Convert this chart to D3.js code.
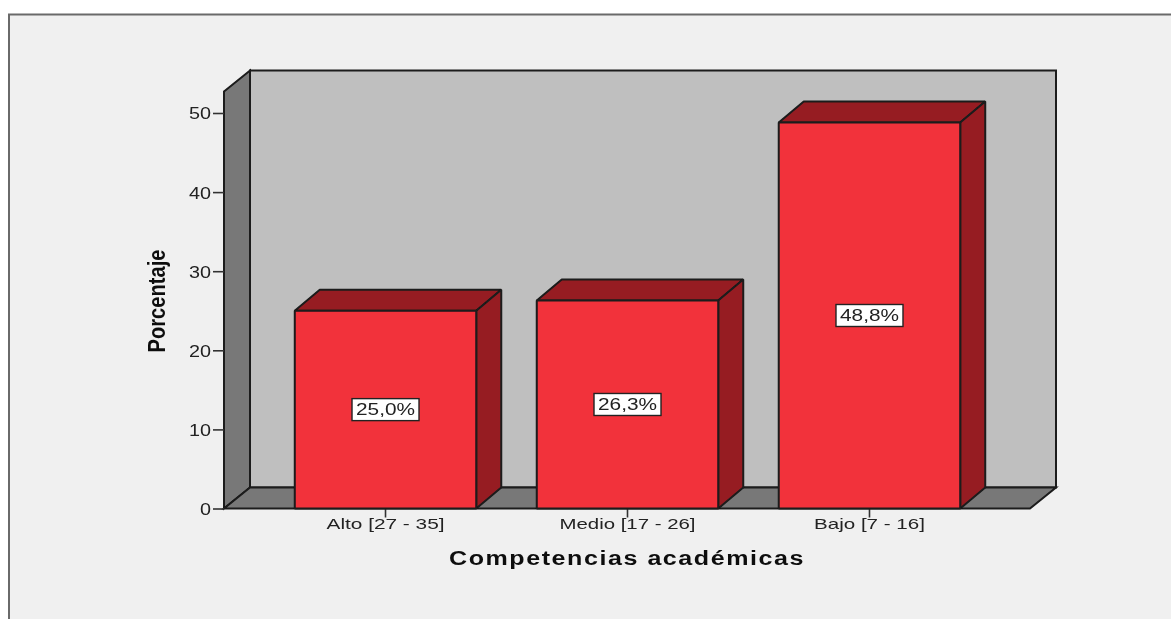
<!DOCTYPE html>
<html>
<head>
<meta charset="utf-8">
<script src="https://cdn.jsdelivr.net/npm/d3@7/dist/d3.min.js"></script>
<style>
html,body{margin:0;padding:0;background:#fff;overflow:hidden}
text{font-family:"Liberation Sans",Arial,sans-serif;fill:#222}
</style>
</head>
<body>
<svg id="c" width="1171" height="619"></svg>
<script>
const categories = ["Alto [27 - 35]", "Medio [17 - 26]", "Bajo [7 - 16]"];
const values = [25.0, 26.3, 48.8];
const valueLabels = ["25,0%", "26,3%", "48,8%"];
const yTicks = [0, 10, 20, 30, 40, 50];
const xTitle = "Competencias académicas";
const yTitle = "Porcentaje";

const W = 1171, H = 619;
const dx = 26, dy = -21;
const left = 224, right = 1030, y0 = 508.5, y50 = 113, topFront = 91.5;

const svg = d3.select("#c");
const defs = svg.append("defs");
defs.append("filter").attr("id", "soft").append("feGaussianBlur").attr("stdDeviation", 0.35);
const root = svg.append("g").attr("filter", "url(#soft)");
const y = d3.scaleLinear().domain([0, 50]).range([y0, y50]);
const x = d3.scaleBand().domain(categories).range([223.5, 1031.5]).paddingInner(0.2500).paddingOuter(0.2945);

const line = "#1a1a1a";
const poly = pts => "M" + pts.map(p => p.join(",")).join("L") + "Z";

// panel
root.append("rect").attr("x", 0).attr("y", 0).attr("width", W).attr("height", H).attr("fill", "#fff");
root.append("rect").attr("x", 9).attr("y", 14.5).attr("width", W + 20).attr("height", H + 20)
  .attr("fill", "#f0f0f0").attr("stroke", "#6a6a6a").attr("stroke-width", 2);

// walls
const g = root.append("g").attr("stroke", line).attr("stroke-width", 2).attr("stroke-linejoin", "miter");
g.append("path").attr("d", poly([[left + dx, topFront + dy], [right + dx, topFront + dy], [right + dx, y0 + dy], [left + dx, y0 + dy]])).attr("fill", "#bfbfbf");
g.append("path").attr("d", poly([[left, topFront], [left + dx, topFront + dy], [left + dx, y0 + dy], [left, y0]])).attr("fill", "#787878");
g.append("path").attr("d", poly([[left, y0], [left + dx, y0 + dy], [right + dx, y0 + dy], [right, y0]])).attr("fill", "#787878");

// axes
const yAxis = d3.axisLeft(y).tickValues(yTicks).tickSize(11).tickPadding(2).tickSizeOuter(0);
const ya = root.append("g").attr("transform", `translate(${left},0)`).call(yAxis);
ya.select(".domain").remove();
ya.selectAll(".tick line").attr("stroke", "#333").attr("stroke-width", 1.6);
ya.selectAll(".tick text").attr("font-size", 16).attr("fill", "#333").attr("dy", "0.37em")
  .attr("textLength", d => d === 0 ? 11 : 22).attr("lengthAdjust", "spacingAndGlyphs");

const xAxis = d3.axisBottom(x).tickSize(9).tickPadding(1).tickSizeOuter(0);
const xa = root.append("g").attr("transform", `translate(0,${y0})`).call(xAxis);
xa.select(".domain").remove();
xa.selectAll(".tick line").attr("stroke", "#333").attr("stroke-width", 1.6);
const xLabelWidths = [118, 136, 111];
xa.selectAll(".tick text").attr("font-size", 15).attr("fill", "#333")
  .attr("textLength", (d, i) => xLabelWidths[i]).attr("lengthAdjust", "spacingAndGlyphs");

// bars
const barDx = 25;
const rows = categories.map((c, i) => ({c, v: values[i], l: valueLabels[i]}));
const bars = root.selectAll("g.bar").data(rows)
  .join("g").attr("class", "bar").attr("stroke", line).attr("stroke-width", 2).attr("stroke-linejoin", "bevel");
bars.append("path").attr("d", d => {
  const a = x(d.c), b = a + x.bandwidth(), t = y(d.v);
  return poly([[a, t], [a + barDx, t + dy], [b + barDx, t + dy], [b, t]]);
}).attr("fill", "#961f24");
bars.append("path").attr("d", d => {
  const b = x(d.c) + x.bandwidth(), t = y(d.v);
  return poly([[b, t], [b + barDx, t + dy], [b + barDx, y0 + dy], [b, y0]]);
}).attr("fill", "#961f24");
bars.append("rect").attr("x", d => x(d.c)).attr("y", d => y(d.v))
  .attr("width", x.bandwidth()).attr("height", d => y0 - y(d.v)).attr("fill", "#f2333b");

// value labels
const lbl = root.selectAll("g.lbl").data(rows)
  .join("g").attr("class", "lbl")
  .attr("transform", d => `translate(${x(d.c) + x.bandwidth() / 2},${y(d.v / 2)})`);
lbl.append("rect").attr("x", -33.5).attr("y", -11).attr("width", 67).attr("height", 22)
  .attr("fill", "#fff").attr("stroke", "#222").attr("stroke-width", 1.4);
lbl.append("text").attr("text-anchor", "middle").attr("y", 5.5).attr("font-size", 16.5)
  .attr("textLength", 59).attr("lengthAdjust", "spacingAndGlyphs").text(d => d.l);

// titles
root.append("text").attr("x", 627).attr("y", 565).attr("text-anchor", "middle")
  .attr("font-size", 19.5).attr("font-weight", "bold").attr("letter-spacing", 1.2).style("fill", "#111")
  .attr("textLength", 356).attr("lengthAdjust", "spacingAndGlyphs").text(xTitle);
root.append("text").attr("transform", "translate(164.5,301) rotate(-90)").attr("text-anchor", "middle")
  .attr("font-size", 24).attr("font-weight", "bold").style("fill", "#111")
  .attr("textLength", 103).attr("lengthAdjust", "spacingAndGlyphs").text(yTitle);
</script>
</body>
</html>
